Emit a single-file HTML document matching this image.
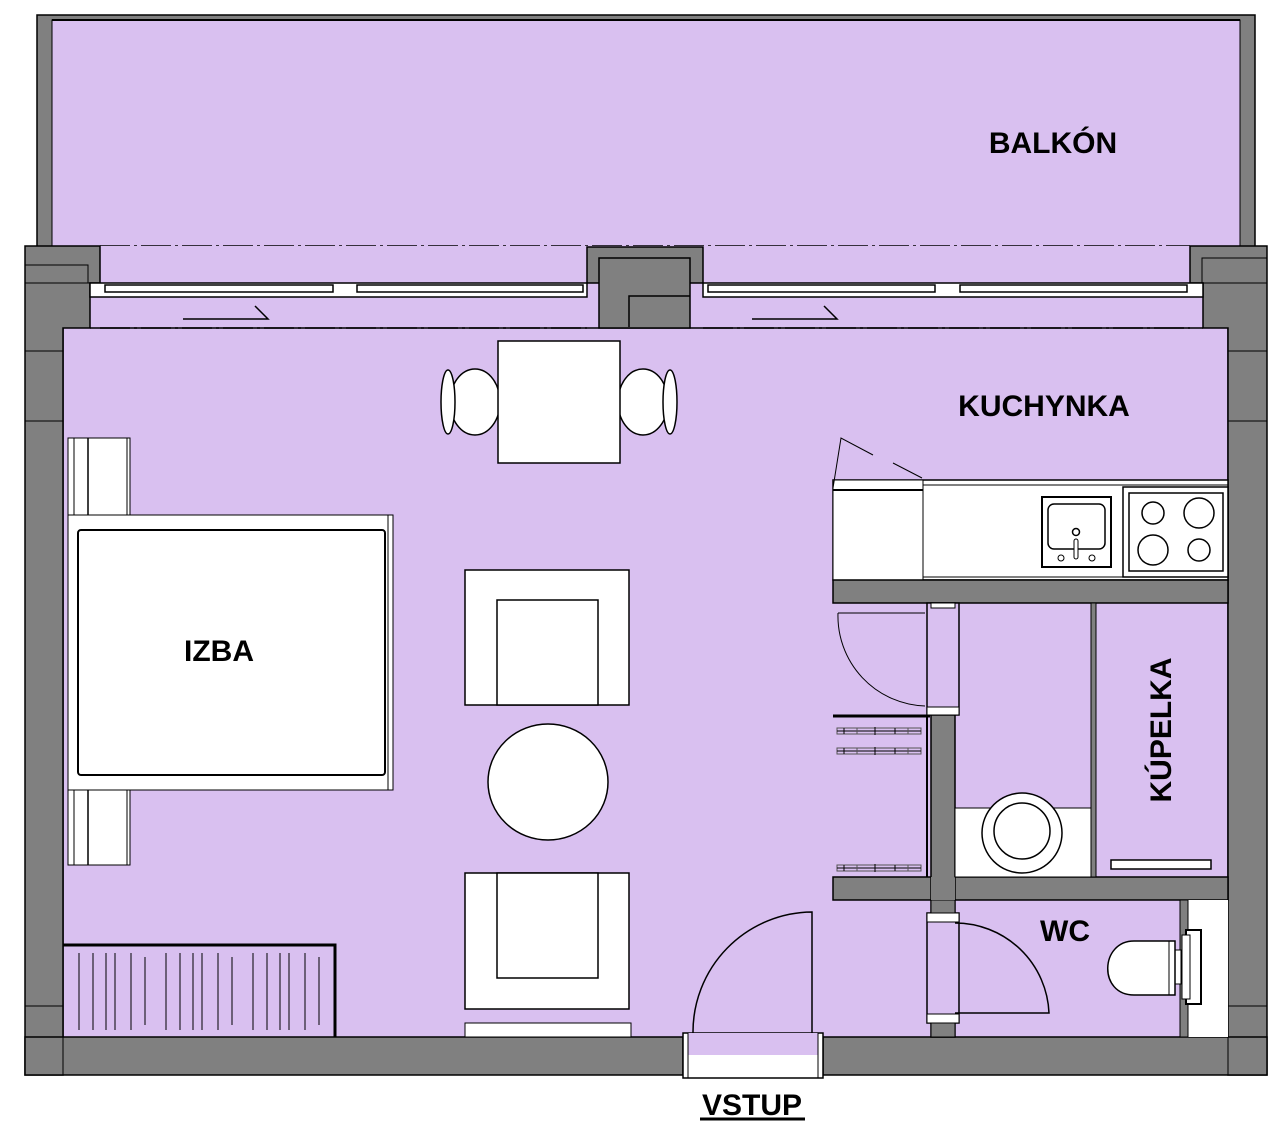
<!DOCTYPE html>
<html><head><meta charset="utf-8"><style>
html,body{margin:0;padding:0;background:#fff;}
svg{display:block;}
text{font-family:"Liberation Sans",sans-serif;font-weight:bold;fill:#000;}
</style></head><body>
<svg width="1286" height="1136" viewBox="0 0 1286 1136" xmlns="http://www.w3.org/2000/svg">
<defs>
<g id="rail">
<rect x="0" y="-3" width="84" height="6" fill="none" stroke="#555" stroke-width="1"/>
<line x1="0" y1="0" x2="84" y2="0" stroke="#000" stroke-width="1"/>
<line x1="7" y1="-3" x2="7" y2="3" stroke="#000"/><line x1="20" y1="-3" x2="20" y2="3" stroke="#555"/>
<line x1="58" y1="-3" x2="58" y2="3" stroke="#000"/><line x1="71" y1="-3" x2="71" y2="3" stroke="#555"/>
<line x1="38" y1="-4" x2="38" y2="4" stroke="#000"/>
</g>
</defs>
<!-- balcony -->
<rect x="37" y="15" width="1218" height="232" fill="#808080" stroke="#000" stroke-width="1.5"/>
<rect x="52" y="20" width="1188" height="227" fill="#d9c0f0" stroke="#000" stroke-width="1"/>
<line x1="52" y1="20" x2="1240" y2="20" stroke="#000" stroke-width="2"/>
<line x1="100" y1="246" x2="1190" y2="246" stroke="#000" stroke-width="1.5" stroke-dasharray="30,4,3,4"/>
<!-- strip between balcony and interior -->
<rect x="90" y="246" width="1113" height="84" fill="#d9c0f0"/>
<!-- interior -->
<rect x="63" y="328" width="1165" height="710" fill="#d9c0f0"/>
<line x1="90" y1="328" x2="1203" y2="328" stroke="#000" stroke-width="1.5"/>
<line x1="63" y1="328" x2="63" y2="1037" stroke="#000" stroke-width="1.5"/>
<line x1="1228" y1="328" x2="1228" y2="1037" stroke="#000" stroke-width="1.5"/>
<!-- left wall -->
<path d="M25 246 H100 V283 H90 V328 H63 V1075 H25 Z" fill="#808080" stroke="#000" stroke-width="1.5"/>
<path d="M25 265 H88 V283" fill="none" stroke="#000" stroke-width="1"/>
<line x1="25" y1="283" x2="90" y2="283" stroke="#000"/>
<line x1="25" y1="351" x2="63" y2="351" stroke="#000"/>
<line x1="25" y1="421" x2="63" y2="421" stroke="#000"/>
<line x1="25" y1="1006" x2="63" y2="1006" stroke="#000"/>
<!-- right wall -->
<path d="M1190 246 H1267 V1075 H1228 V328 H1203 V283 H1190 Z" fill="#808080" stroke="#000" stroke-width="1.5"/>
<path d="M1202 283 V258 H1267" fill="none" stroke="#000"/>
<line x1="1203" y1="283" x2="1267" y2="283" stroke="#000"/>
<line x1="1228" y1="351" x2="1267" y2="351" stroke="#000"/>
<line x1="1228" y1="421" x2="1267" y2="421" stroke="#000"/>
<line x1="1228" y1="1006" x2="1267" y2="1006" stroke="#000"/>
<!-- middle pier -->
<rect x="587" y="247" width="116" height="36" fill="#808080" stroke="#000" stroke-width="1.5"/>
<rect x="599" y="258" width="91" height="70" fill="#808080" stroke="#000" stroke-width="1.5"/>
<path d="M629 327 V296 H690" fill="none" stroke="#000" stroke-width="1.5"/>
<!-- windows -->
<g fill="#fff" stroke="#000" stroke-width="1.5">
<rect x="90" y="283" width="497" height="14"/><rect x="703" y="283" width="500" height="14"/>
<rect x="105" y="285" width="228" height="7"/><rect x="357" y="285" width="226" height="7"/>
<rect x="708" y="285" width="227" height="7"/><rect x="960" y="285" width="227" height="7"/>
</g>
<line x1="100" y1="328" x2="587" y2="328" stroke="#000" stroke-width="1.5" stroke-dasharray="30,4,3,4"/>
<line x1="703" y1="328" x2="1190" y2="328" stroke="#000" stroke-width="1.5" stroke-dasharray="30,4,3,4"/>
<path d="M183 319 H268 L255 306" fill="none" stroke="#000" stroke-width="1.5"/>
<path d="M752 319 H837 L824 306" fill="none" stroke="#000" stroke-width="1.5"/>
<!-- bottom wall -->
<path d="M25 1037 H683 V1075 H25 Z" fill="#808080" stroke="#000" stroke-width="1.5"/>
<path d="M823 1037 H1267 V1075 H823 Z" fill="#808080" stroke="#000" stroke-width="1.5"/>
<line x1="63" y1="1037" x2="63" y2="1075" stroke="#000"/>
<line x1="1228" y1="1037" x2="1228" y2="1075" stroke="#000"/>
<rect x="683" y="1033" width="140" height="45" fill="#fff" stroke="#000" stroke-width="1.5"/>
<rect x="688" y="1033" width="130" height="22" fill="#d9c0f0"/>
<line x1="688" y1="1033" x2="688" y2="1078" stroke="#000"/><line x1="818" y1="1033" x2="818" y2="1078" stroke="#000"/>
<path d="M693 1033 A120 120 0 0 1 812 912 V1033" fill="none" stroke="#000" stroke-width="1.5"/>
<!-- kitchen -->
<rect x="833" y="480" width="395" height="100" fill="#fff" stroke="#000" stroke-width="1.5"/>
<rect x="833" y="480" width="90" height="100" fill="#fff" stroke="#000" stroke-width="1"/>
<line x1="833" y1="490" x2="923" y2="490" stroke="#000" stroke-width="2"/>
<line x1="923" y1="485" x2="1228" y2="485" stroke="#000" stroke-width="1"/>
<line x1="923" y1="577" x2="1228" y2="577" stroke="#000" stroke-width="1"/>
<path d="M833 488 L841 438 L873 455 M893 463 L922 478" fill="none" stroke="#000" stroke-width="1"/>
<rect x="1042" y="497" width="69" height="70" fill="#fff" stroke="#000" stroke-width="2"/>
<rect x="1048" y="504" width="57" height="45" rx="6" fill="none" stroke="#000" stroke-width="1.5"/>
<circle cx="1076" cy="532" r="3.5" fill="#fff" stroke="#000" stroke-width="1.5"/>
<rect x="1074" y="539" width="4" height="20" rx="2" fill="#fff" stroke="#000"/>
<circle cx="1061" cy="558" r="3" fill="none" stroke="#000"/><circle cx="1092" cy="558" r="3" fill="none" stroke="#000"/>
<rect x="1123" y="487" width="105" height="90" fill="#fff" stroke="#000" stroke-width="1.5"/>
<rect x="1129" y="493" width="94" height="78" fill="none" stroke="#000" stroke-width="1.5"/>
<circle cx="1153" cy="513" r="11" fill="none" stroke="#000" stroke-width="1.5"/>
<circle cx="1199" cy="513" r="15" fill="none" stroke="#000" stroke-width="1.5"/>
<circle cx="1153" cy="550" r="15" fill="none" stroke="#000" stroke-width="1.5"/>
<circle cx="1199" cy="550" r="11" fill="none" stroke="#000" stroke-width="1.5"/>
<!-- walls interior -->
<rect x="833" y="580" width="395" height="23" fill="#808080" stroke="#000" stroke-width="1.5"/>
<rect x="833" y="877" width="395" height="23" fill="#808080" stroke="#000" stroke-width="1.5"/>
<rect x="931" y="603" width="24" height="434" fill="#808080" stroke="#000" stroke-width="1.5"/>
<rect x="927" y="603" width="32" height="112" fill="#d9c0f0" stroke="#000" stroke-width="1.5"/>
<rect x="931" y="603" width="24" height="5" fill="#fff" stroke="#000"/>
<rect x="927" y="707" width="32" height="8" fill="#fff" stroke="#000"/>
<rect x="927" y="913" width="32" height="110" fill="#d9c0f0" stroke="#000" stroke-width="1.5"/>
<rect x="927" y="913" width="32" height="9" fill="#fff" stroke="#000"/>
<rect x="927" y="1014" width="32" height="9" fill="#fff" stroke="#000"/>
<rect x="931" y="900" width="24" height="13" fill="#808080" stroke="#000"/>
<rect x="931" y="1023" width="24" height="14" fill="#808080" stroke="#000"/>
<rect x="931" y="877" width="24" height="23" fill="#808080"/>
<path d="M838 613 H925 M838 613 A90 90 0 0 0 925 706" fill="none" stroke="#000" stroke-width="1"/>
<line x1="833" y1="716" x2="930" y2="716" stroke="#000" stroke-width="3"/>
<line x1="927" y1="716" x2="927" y2="877" stroke="#000" stroke-width="2"/>
<g transform="translate(837,731)"><use href="#rail"/></g>
<g transform="translate(837,751)"><use href="#rail"/></g>
<g transform="translate(837,868)"><use href="#rail"/></g>
<!-- bathroom -->
<rect x="1091" y="603" width="5" height="274" fill="#808080" stroke="#000"/>
<rect x="955" y="808" width="136" height="69" fill="#fff" stroke="#000" stroke-width="1"/>
<circle cx="1022" cy="833" r="40" fill="#fff" stroke="#000" stroke-width="1.5"/>
<circle cx="1022" cy="831" r="28" fill="#fff" stroke="#000" stroke-width="1.5"/>
<rect x="1111" y="860" width="100" height="9" fill="#fff" stroke="#000" stroke-width="1.5"/>
<!-- WC -->
<rect x="1180" y="900" width="48" height="137" fill="#fff"/>
<rect x="1180" y="900" width="8" height="137" fill="#808080" stroke="#000"/>
<rect x="1186" y="930" width="15" height="74" fill="#fff" stroke="#000" stroke-width="2"/>
<rect x="1182" y="935" width="8" height="64" fill="#fff" stroke="#000"/>
<rect x="1175" y="950" width="6" height="34" fill="#fff" stroke="#000"/>
<path d="M1175 941 H1134 C1100 941 1098 995 1134 995 H1175 Z" fill="#fff" stroke="#000" stroke-width="1.5"/>
<line x1="1169" y1="941" x2="1169" y2="995" stroke="#000"/>
<path d="M955 1013 H1049 A94 94 0 0 0 955 923" fill="none" stroke="#000" stroke-width="1.5"/>
<!-- IZBA furniture -->
<rect x="68" y="438" width="62" height="427" fill="#fff" stroke="#000" stroke-width="1"/>
<line x1="74" y1="438" x2="74" y2="865" stroke="#000"/><line x1="88" y1="438" x2="88" y2="865" stroke="#000" stroke-width="1.5"/>
<line x1="127" y1="438" x2="127" y2="865" stroke="#000"/>
<rect x="68" y="515" width="325" height="275" fill="#fff" stroke="#000" stroke-width="1"/>
<line x1="388" y1="515" x2="388" y2="790" stroke="#000"/>
<rect x="78" y="530" width="307" height="245" rx="3" fill="#fff" stroke="#000" stroke-width="2"/>
<!-- dining -->
<g fill="#fff" stroke="#000" stroke-width="1.5">
<ellipse cx="475" cy="402" rx="25" ry="33"/><ellipse cx="448" cy="402" rx="7" ry="32"/>
<ellipse cx="643" cy="402" rx="25" ry="33"/><ellipse cx="670" cy="402" rx="7" ry="32"/>
<rect x="498" y="341" width="122" height="122"/>
</g>
<!-- armchairs -->
<rect x="465" y="570" width="164" height="135" fill="#fff" stroke="#000" stroke-width="1.5"/>
<rect x="497" y="600" width="101" height="105" fill="#fff" stroke="#000" stroke-width="1.5"/>
<ellipse cx="548" cy="782" rx="60" ry="58" fill="#fff" stroke="#000" stroke-width="1.5"/>
<rect x="465" y="873" width="164" height="136" fill="#fff" stroke="#000" stroke-width="1.5"/>
<rect x="497" y="873" width="101" height="105" fill="#fff" stroke="#000" stroke-width="1.5"/>
<rect x="465" y="1023" width="166" height="14" fill="#fff" stroke="#000" stroke-width="1"/>
<!-- wardrobe -->
<path d="M63 945 H335 V1037" fill="none" stroke="#000" stroke-width="3"/>
<g stroke="#000" stroke-width="1">
<line x1="79" y1="953" x2="79" y2="1030"/><line x1="93" y1="953" x2="93" y2="1030"/><line x1="106" y1="953" x2="106" y2="1030"/><line x1="115" y1="953" x2="115" y2="1030"/><line x1="131" y1="953" x2="131" y2="1030"/><line x1="145" y1="957" x2="145" y2="1025"/><line x1="166" y1="953" x2="166" y2="1030"/><line x1="180" y1="953" x2="180" y2="1030"/><line x1="193" y1="953" x2="193" y2="1030"/><line x1="202" y1="953" x2="202" y2="1030"/><line x1="218" y1="953" x2="218" y2="1030"/><line x1="232" y1="957" x2="232" y2="1025"/><line x1="253" y1="953" x2="253" y2="1030"/><line x1="267" y1="953" x2="267" y2="1030"/><line x1="280" y1="953" x2="280" y2="1030"/><line x1="289" y1="953" x2="289" y2="1030"/><line x1="305" y1="953" x2="305" y2="1030"/><line x1="319" y1="957" x2="319" y2="1025"/>
</g>
<!-- labels -->
<text x="1053" y="153" font-size="30" text-anchor="middle">BALKÓN</text>
<text x="1044" y="416" font-size="30" text-anchor="middle">KUCHYNKA</text>
<text x="219" y="661" font-size="30" text-anchor="middle">IZBA</text>
<text x="1065" y="941" font-size="30" text-anchor="middle">WC</text>
<text transform="translate(1171,730) rotate(-90)" font-size="30" text-anchor="middle">KÚPELKA</text>
<text x="752" y="1115" font-size="30" text-anchor="middle">VSTUP</text>
<line x1="700" y1="1119" x2="805" y2="1119" stroke="#000" stroke-width="3"/>
</svg>
</body></html>
